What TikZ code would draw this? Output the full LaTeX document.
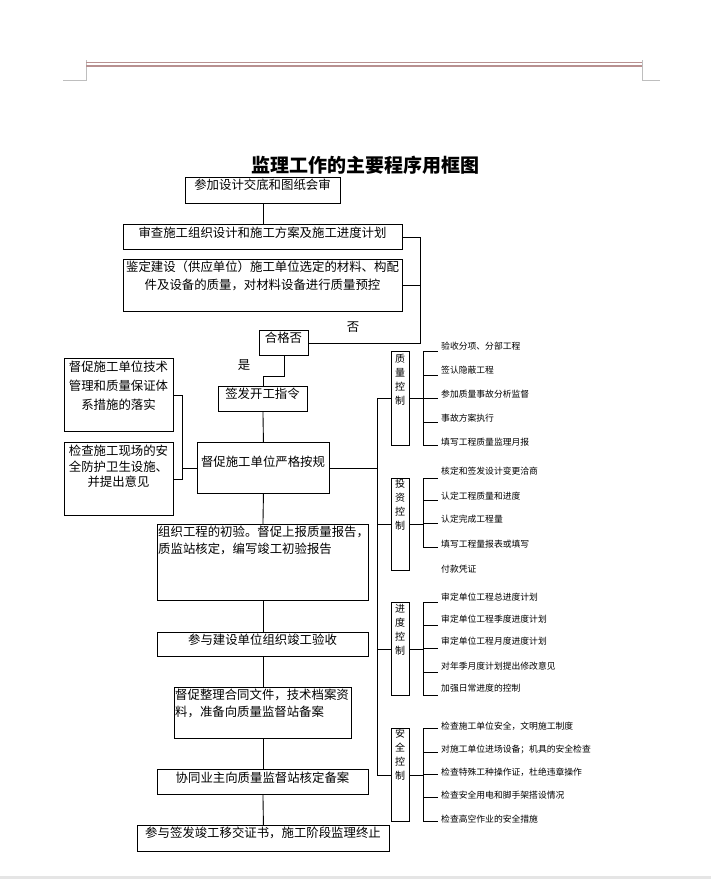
\documentclass[tikz,border=0pt]{standalone}
\usepackage{fontspec}
\newfontfamily\cjk{Noto Sans CJK SC}
\definecolor{rule}{RGB}{184,144,144}
\definecolor{corner}{RGB}{190,190,190}
\begin{document}
\begin{tikzpicture}[x=1pt,y=-1pt,
  box/.style={draw, line width=0.9pt, inner sep=0pt, anchor=north west},
  txt/.style={font=\cjk\fontsize{12.4}{15}\selectfont, inner sep=0pt},
  small/.style={font=\cjk\fontsize{8.8}{10}\selectfont, inner sep=0pt, anchor=west},
  vert/.style={font=\cjk\fontsize{10}{14}\selectfont, inner sep=0pt, align=center, anchor=north},
  ln/.style={line width=0.9pt}
]
\useasboundingbox (0,0) rectangle (711,879);
% header
\draw[corner, line width=0.8pt] (63,80) -- (86,80) -- (86,60);
\draw[corner, line width=0.8pt] (660,80) -- (642,80) -- (642,60);
\draw[rule, line width=0.8pt] (86,62.5) -- (642,62.5);
\draw[rule, line width=2.4pt] (86,66) -- (642,66);
\draw[gray!20, line width=3pt] (0,877.5) -- (711,877.5);

% title
\node[font=\cjk\bfseries\fontsize{19}{19}\selectfont, inner sep=0pt] (title) at (365,165) {监理工作的主要程序用框图};

% main column boxes
\node[box, minimum width=155pt, minimum height=26pt] (b1) at (185,177) {};
\node[txt] (b1t) at (262.5,185) {参加设计交底和图纸会审};
\node[box, minimum width=279pt, minimum height=25pt] (b2) at (123,224) {};
\node[txt] (b2t) at (262.5,233) {审查施工组织设计和施工方案及施工进度计划};
\node[box, minimum width=279pt, minimum height=52pt] (b3) at (123,259) {};
\node[txt, anchor=north, align=center, font=\cjk\fontsize{12.4}{18}\selectfont] (b3t) at (262.5,261) {鉴定建设（供应单位）施工单位选定的材料、构配\\件及设备的质量，对材料设备进行质量预控};
\node[box, minimum width=49pt, minimum height=25pt] (hg) at (259,330) {};
\node[txt] (hgt) at (283.5,338) {合格否};
\node[txt] (no) at (353,327) {否};
\node[txt] (yes) at (244,365) {是};
\node[box, minimum width=89pt, minimum height=25pt] (qf) at (218,386) {};
\node[txt] (qft) at (262.5,394) {签发开工指令};
\node[box, minimum width=132pt, minimum height=51pt] (dc) at (197,442) {};
\node[txt] (dct) at (263,462) {督促施工单位严格按规};

% left boxes
\node[box, minimum width=109pt, minimum height=73pt] (lb1) at (64,358) {};
\node[txt, anchor=north, align=center, font=\cjk\fontsize{12.4}{19}\selectfont] (lb1t) at (118.5,361) {督促施工单位技术\\管理和质量保证体\\系措施的落实};
\node[box, minimum width=109pt, minimum height=73pt] (lb2) at (64,442) {};
\node[txt, anchor=north, align=center, font=\cjk\fontsize{12.4}{15.5}\selectfont] (lb2t) at (118.5,445) {检查施工现场的安\\全防护卫生设施、\\并提出意见};

% lower column
\node[box, minimum width=211pt, minimum height=76pt] (zz) at (157,524) {};
\node[txt, anchor=north west, align=left, font=\cjk\fontsize{12.4}{17}\selectfont] (zzt) at (158,526) {组织工程的初验。督促上报质量报告，\\质监站核定，编写竣工初验报告};
\node[box, minimum width=211pt, minimum height=24pt] (cy) at (157,632) {};
\node[txt] (cyt) at (262.5,640) {参与建设单位组织竣工验收};
\node[box, minimum width=177pt, minimum height=51pt] (dz) at (174,687) {};
\node[txt, anchor=north west, align=left, font=\cjk\fontsize{12.4}{17}\selectfont] (dzt) at (175,689) {督促整理合同文件，技术档案资\\料，准备向质量监督站备案};
\node[box, minimum width=211pt, minimum height=25pt] (xt) at (157,769) {};
\node[txt] (xtt) at (262.5,778) {协同业主向质量监督站核定备案};
\node[box, minimum width=252pt, minimum height=26pt] (fin) at (137,825) {};
\node[txt] (fint) at (263,833) {参与签发竣工移交证书，施工阶段监理终止};

% main connectors
\draw[ln] (b1.south) -- (b1.south |- b2.north);
\draw[ln] (b2.east) -- ++(18,0) coordinate (loopTop) |- (hg.east);
\draw[ln] (b3.east) -- (b3.east -| loopTop);
\draw[ln] (hg.south) -- ++(0,21) -| (qf.north);
\draw[ln] (qf.south) -- (dc.north);
\draw[ln] (dc.south) -- (zz.north);
\draw[ln] (zz.south) -- (cy.north);
\draw[ln] (cy.south) -- (dz.north);
\draw[ln] (dz.south) -- (xt.north);
\draw[ln] (xt.south) -- (fin.north);
% left bracket
\draw[ln] (lb1.east) -- ++(9,0) coordinate (lbr) |- (lb2.east);
\draw[ln] (lbr |- dc.west) -- (dc.west);

% category boxes
\node[box, minimum width=18pt, minimum height=94pt] (Q) at (391,351) {};
\node[vert] (Qt) at (400,354) {质\\量\\控\\制};
\node[box, minimum width=18pt, minimum height=92pt] (I) at (391,478) {};
\node[vert] (It) at (400,479) {投\\资\\控\\制};
\node[box, minimum width=18pt, minimum height=93pt] (P) at (391,602) {};
\node[vert] (Pt) at (400,604) {进\\度\\控\\制};
\node[box, minimum width=18pt, minimum height=93pt] (S) at (391,728) {};
\node[vert] (St) at (400,729) {安\\全\\控\\制};

% bus
\coordinate (bus) at (377,0);
\draw[ln] (bus |- Q.west) -- (bus |- S.west);
\draw[ln] (dc.east) -- (dc.east -| bus);
\foreach \c in {Q,I,P,S} { \draw[ln] (bus |- \c.west) -- (\c.west); \draw[ln] (\c.east) -- ++(14,0); }

% brackets
\draw[ln] (423,351) -- (423,445);
\draw[ln] (423,478) -- (423,547);
\draw[ln] (423,602) -- (423,695);
\draw[ln] (423,728) -- (423,821);

\foreach \ty/\tk/\s [count=\i] in {346/351/{验收分项、分部工程}, 370/375/{签认隐蔽工程}, 394/398/{参加质量事故分析监督}, 418/422/{事故方案执行}, 442/445/{填写工程质量监理月报}} {
  \node[small] (q\i) at (441,\ty) {\s};
  \draw[ln] (423,\tk) -- (438,\tk);
}
\foreach \ty/\tk/\s [count=\i] in {471/478/{核定和签发设计变更洽商}, 496/500/{认定工程质量和进度}, 519/523/{认定完成工程量}, 544/547/{填写工程量报表或填写}} {
  \node[small] (i\i) at (441,\ty) {\s};
  \draw[ln] (423,\tk) -- (438,\tk);
}
\node[small] (i5) at (441,569) {付款凭证};
\foreach \ty/\tk/\s [count=\i] in {597/602/{审定单位工程总进度计划}, 619/625/{审定单位工程季度进度计划}, 641/648/{审定单位工程月度进度计划}, 666/672/{对年季月度计划提出修改意见}, 688/695/{加强日常进度的控制}} {
  \node[small] (p\i) at (441,\ty) {\s};
  \draw[ln] (423,\tk) -- (438,\tk);
}
\foreach \ty/\tk/\s [count=\i] in {726/728/{检查施工单位安全，文明施工制度}, 749/752/{对施工单位进场设备；机具的安全检查}, 772/774/{检查特殊工种操作证，杜绝违章操作}, 795/797/{检查安全用电和脚手架搭设情况}, 819/821/{检查高空作业的安全措施}} {
  \node[small] (s\i) at (441,\ty) {\s};
  \draw[ln] (423,\tk) -- (438,\tk);
}
\end{tikzpicture}
\end{document}
